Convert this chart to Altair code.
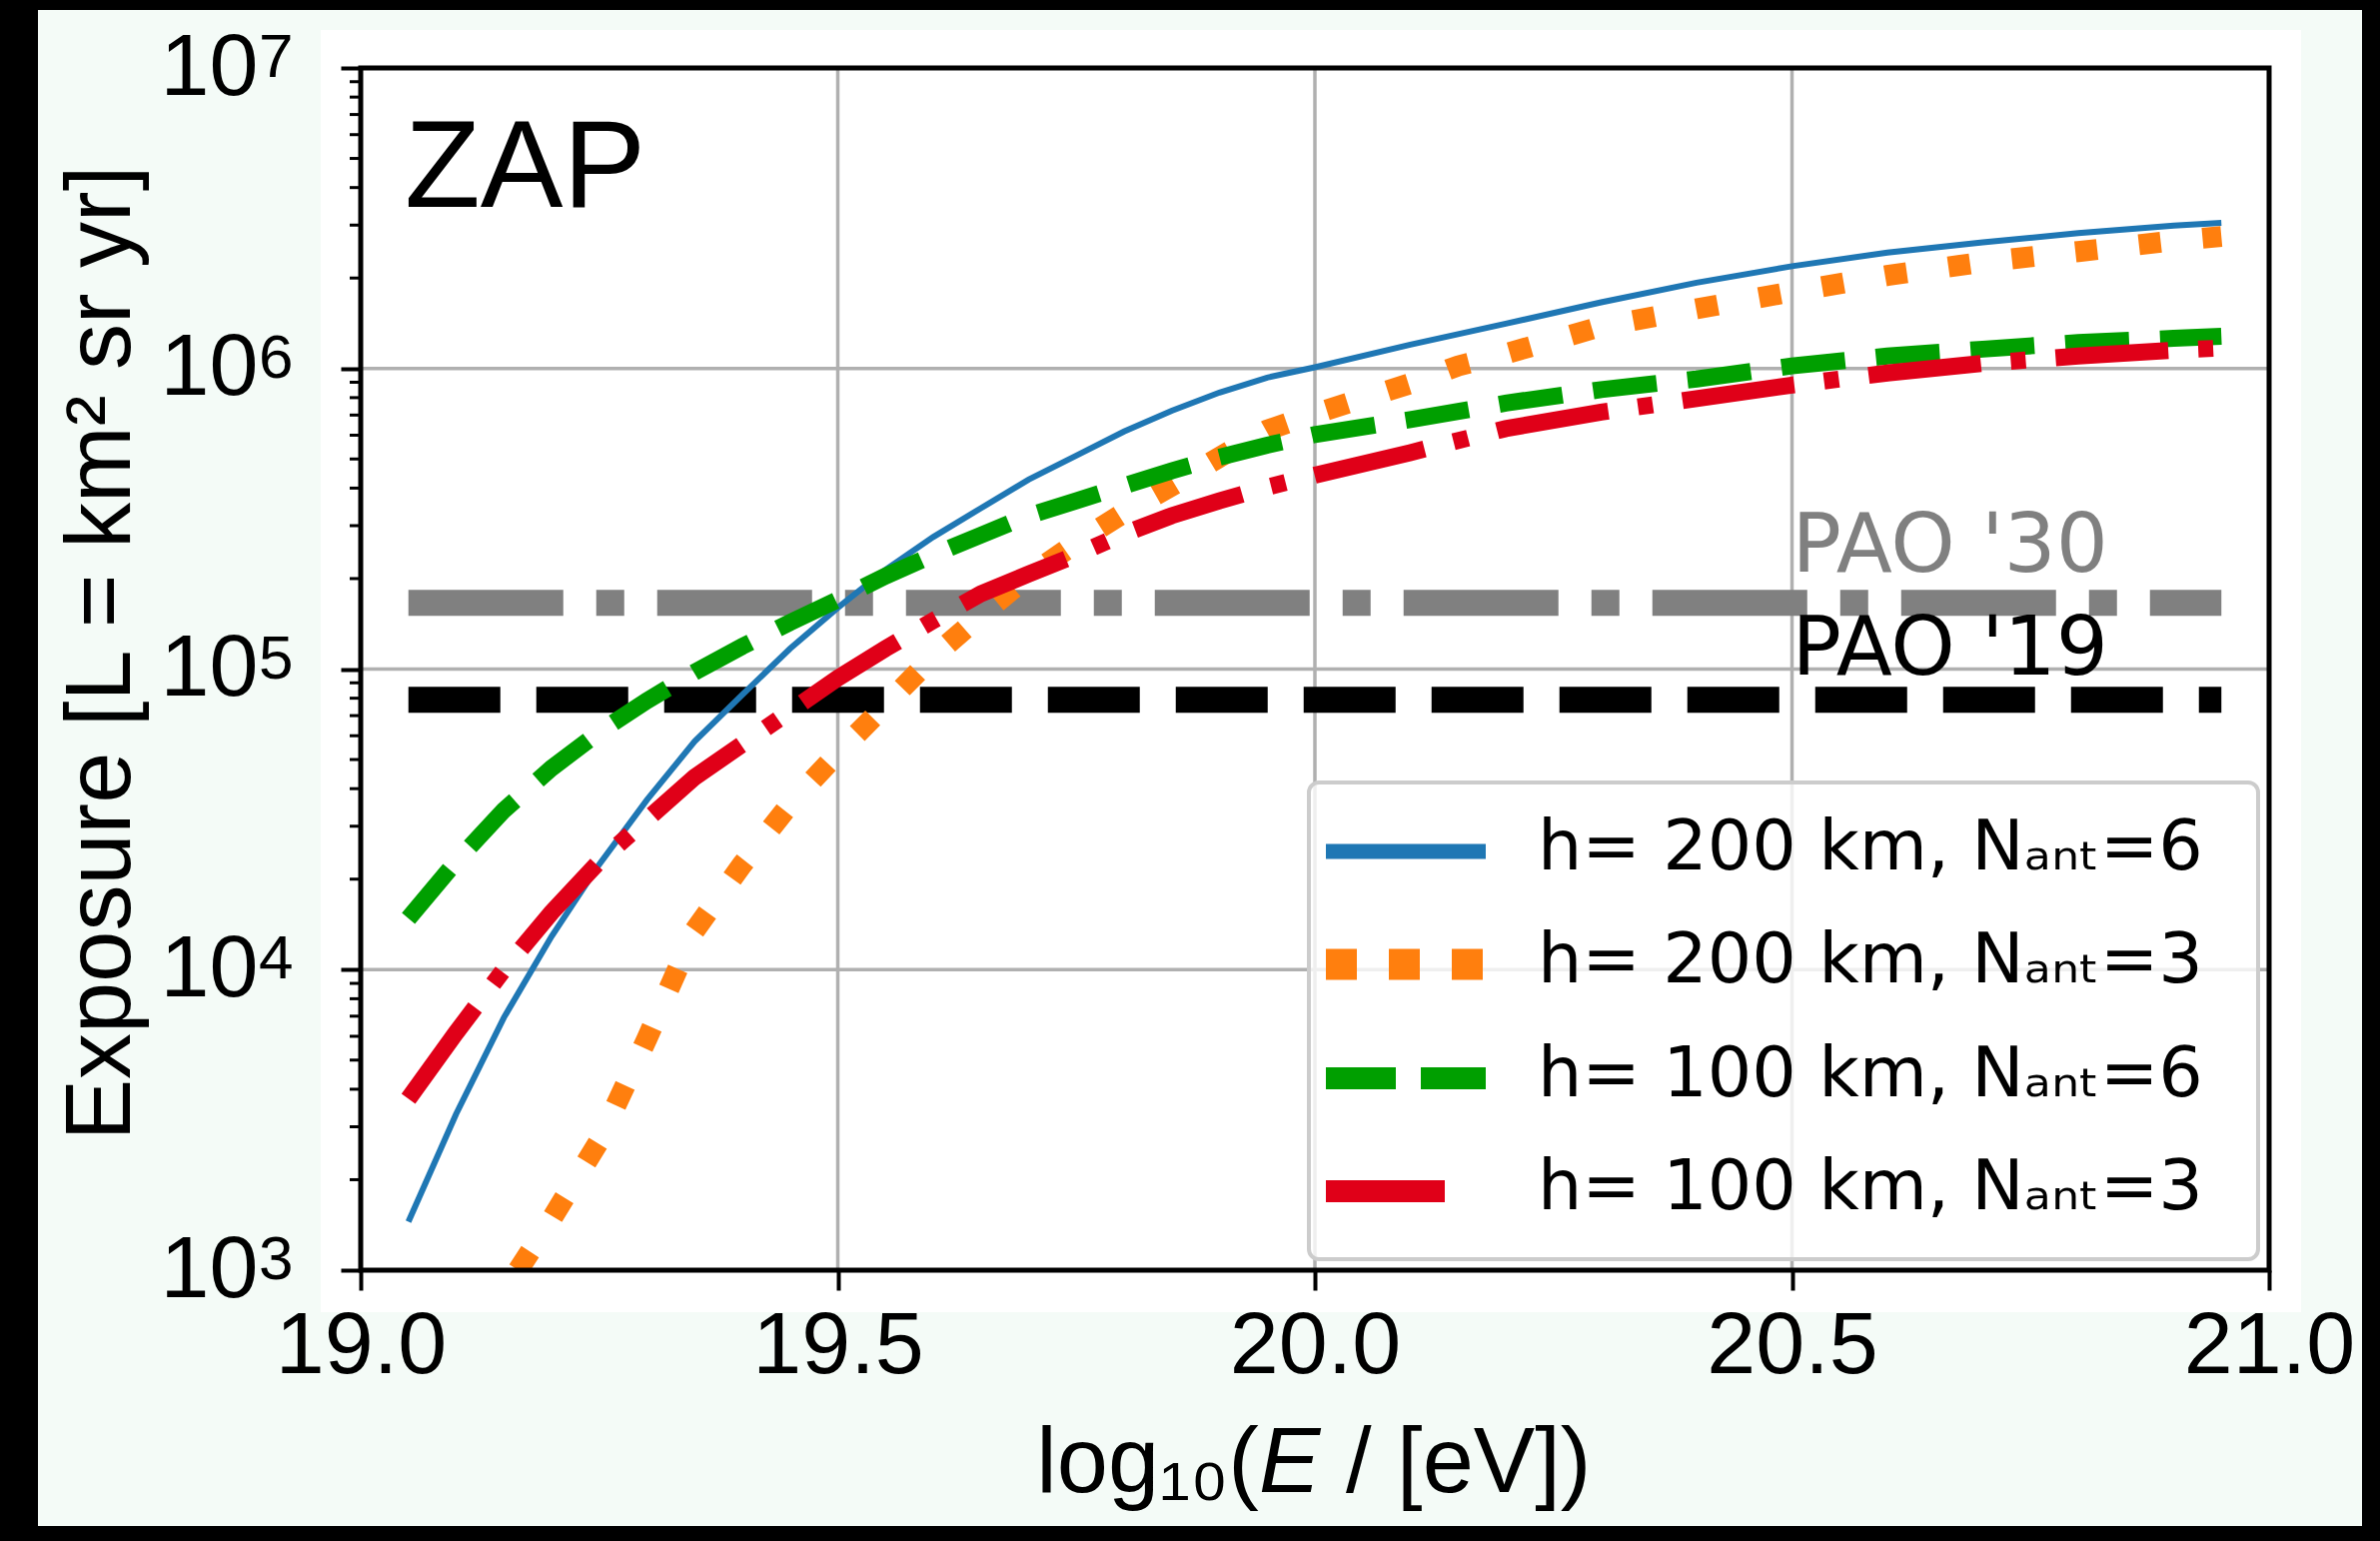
import altair as alt
import pandas as pd

# ---- data: exposure (km^2 sr yr) vs log10(E/eV) for each ZAP configuration ----
E_H200_N6 = [19.05, 19.10, 19.15, 19.20, 19.25, 19.30, 19.35, 19.40, 19.45, 19.50,
             19.55, 19.60, 19.65, 19.70, 19.75, 19.80, 19.85, 19.90, 19.95, 20.00,
             20.10, 20.20, 20.30, 20.40, 20.50, 20.60, 20.70, 20.80, 20.90, 20.95]
EXPO_H200_N6 = [1.45e3, 3.31e3, 6.92e3, 1.29e4, 2.24e4, 3.67e4, 5.75e4, 8.22e4, 1.17e5, 1.60e5,
                2.14e5, 2.75e5, 3.43e5, 4.27e5, 5.13e5, 6.17e5, 7.24e5, 8.32e5, 9.33e5, 1.01e6,
                1.20e6, 1.41e6, 1.66e6, 1.93e6, 2.19e6, 2.43e6, 2.63e6, 2.82e6, 2.99e6, 3.05e6]

E_H200_N3 = [19.165, 19.20, 19.25, 19.30, 19.35, 19.40, 19.45, 19.50, 19.55, 19.60,
             19.65, 19.70, 19.75, 19.80, 19.85, 19.90, 19.95, 20.00, 20.05, 20.10,
             20.15, 20.20, 20.30, 20.40, 20.50, 20.60, 20.70, 20.80, 20.90, 20.95]
EXPO_H200_N3 = [1.0e3, 1.48e3, 2.69e3, 5.89e3, 1.35e4, 2.24e4, 3.55e4, 5.25e4, 7.59e4, 1.10e5,
                1.51e5, 2.04e5, 2.63e5, 3.31e5, 4.07e5, 5.07e5, 6.24e5, 7.08e5, 7.94e5, 8.91e5,
                1.02e6, 1.12e6, 1.38e6, 1.58e6, 1.80e6, 2.04e6, 2.26e6, 2.45e6, 2.66e6, 2.75e6]

E_H100_N6 = E_H200_N6
EXPO_H100_N6 = [1.48e4, 2.29e4, 3.39e4, 4.68e4, 6.17e4, 7.85e4, 9.77e4, 1.19e5, 1.43e5, 1.70e5,
                2.04e5, 2.40e5, 2.79e5, 3.24e5, 3.63e5, 4.07e5, 4.57e5, 5.07e5, 5.56e5, 6.03e5,
                6.76e5, 7.67e5, 8.51e5, 9.23e5, 1.02e6, 1.10e6, 1.16e6, 1.22e6, 1.26e6, 1.28e6]

E_H100_N3 = E_H200_N6
EXPO_H100_N3 = [3.72e3, 6.17e3, 1.0e4, 1.55e4, 2.29e4, 3.16e4, 4.37e4, 5.62e4, 7.24e4, 9.33e4,
                1.17e5, 1.45e5, 1.78e5, 2.07e5, 2.40e5, 2.82e5, 3.24e5, 3.63e5, 4.03e5, 4.42e5,
                5.25e5, 6.31e5, 7.16e5, 7.94e5, 8.81e5, 9.66e5, 1.04e6, 1.10e6, 1.15e6, 1.17e6]

# Pierre Auger Observatory reference exposures
PAO_E = [19.05, 20.95]
PAO_30 = 1.66e5
PAO_19 = 7.9e4
PAO_LABEL_E = 20.5
PAO_LABELS = ["PAO '30", "PAO '19"]

LEGEND_LABELS = ["h= 200 km, Nₐₙₜ=6", "h= 200 km, Nₐₙₜ=3",
                 "h= 100 km, Nₐₙₜ=6", "h= 100 km, Nₐₙₜ=3"]

# x-axis title pieces: "log₁₀(" + italic "E" + " / [eV])"
X_TITLE_PARTS = ["log₁₀(", "E", "/ [eV])"]

X_TICKS = [19.0, 19.5, 20.0, 20.5, 21.0]
Y_TICKS = [1e3, 1e4, 1e5, 1e6, 1e7]
Y_TICK_BASE = "10"
Y_TICK_EXPONENTS = ["3", "4", "5", "6", "7"]
Y_MINOR = [m * 10 ** k for k in range(3, 7) for m in range(2, 10)]

# ---- layout ----
W, H = 1910, 1203
PAD = {"left": 361, "top": 68, "right": 111, "bottom": 271}
SANS = "Liberation Sans"
DEJAVU = "DejaVu Sans"

BLUE, ORANGE, GREEN, RED = "#1f77b4", "#ff7f0e", "#009f00", "#e00018"

x_scale = alt.Scale(domain=[19.0, 21.0], nice=False, zero=False)
y_scale = alt.Scale(type="log", domain=[1e3, 1e7], nice=False)

x_axis = alt.Axis(
    values=X_TICKS, format=".1f", grid=False, domain=False,
    ticks=True, tickSize=20, tickWidth=4, tickColor="black",
    labelFont=SANS, labelFontSize=88, labelColor="black", labelPadding=12,
    labelFlush=False, labelOverlap=False, title="", zindex=1,
)
# mantissa "10" comes from the axis, the exponent is a separate raised text layer
y_axis = alt.Axis(
    values=Y_TICKS, labelExpr=f"'{Y_TICK_BASE}'", grid=False, domain=False,
    ticks=True, tickSize=20, tickWidth=4, tickColor="black",
    labelFont=SANS, labelFontSize=88, labelColor="black", labelPadding=83,
    labelOverlap=False, labelFlush=False,
    title="Exposure [L = km² sr yr]", titleFont=SANS, titleFontSize=92,
    titleFontWeight="normal", titleColor="black", titleAngle=270,
    titleBaseline="alphabetic", titleX=-232, titleY=585, titleAlign="center",
    zindex=1,
)


def xenc(field="energy"):
    return alt.X(f"{field}:Q", scale=x_scale, axis=x_axis)


def yenc(field="exposure"):
    return alt.Y(f"{field}:Q", scale=y_scale, axis=y_axis)


ONE = pd.DataFrame({"k": [0]})

# ---- background panels ----
page = alt.Chart(ONE).mark_rect(fill="#f4fbf7").encode(
    x=alt.value(-323), x2=alt.value(2003), y=alt.value(-58), y2=alt.value(1459))
figure = alt.Chart(ONE).mark_rect(fill="white").encode(
    x=alt.value(-40), x2=alt.value(1942), y=alt.value(-38), y2=alt.value(1245))

# ---- grid ----
vgrid = alt.Chart(pd.DataFrame({"energy": X_TICKS})).mark_rule(
    color="#b0b0b0", strokeWidth=3.5).encode(x=xenc())
hgrid = alt.Chart(pd.DataFrame({"exposure": Y_TICKS})).mark_rule(
    color="#b0b0b0", strokeWidth=3.5).encode(y=yenc())

# minor ticks of the log axis
minor = alt.Chart(pd.DataFrame({"exposure": Y_MINOR})).mark_rule(
    color="black", strokeWidth=3).encode(
    y=yenc(), x=alt.value(-11), x2=alt.value(0))

# exponents of the y tick labels
exponents = alt.Chart(pd.DataFrame({"exposure": Y_TICKS, "exp": Y_TICK_EXPONENTS})).mark_text(
    font=SANS, fontSize=62, color="black", align="left", baseline="alphabetic", dy=9).encode(
    y=yenc(), x=alt.value(-102), text="exp:N")

# x-axis title with an italic E (E advance and the following space are added by hand)
TITLE_X, TITLE_Y, E_ADV, SPACE = 899, 1425, 61, 26
x_title = [
    alt.Chart(ONE).mark_text(text=X_TITLE_PARTS[0], font=SANS, fontSize=92, color="black",
                             align="right", baseline="alphabetic").encode(
        x=alt.value(TITLE_X), y=alt.value(TITLE_Y)),
    alt.Chart(ONE).mark_text(text=X_TITLE_PARTS[1], font=SANS, fontSize=92, color="black",
                             fontStyle="italic", align="left", baseline="alphabetic").encode(
        x=alt.value(TITLE_X), y=alt.value(TITLE_Y)),
    alt.Chart(ONE).mark_text(text=X_TITLE_PARTS[2], font=SANS, fontSize=92, color="black",
                             align="left", baseline="alphabetic").encode(
        x=alt.value(TITLE_X + E_ADV + SPACE), y=alt.value(TITLE_Y)),
]

# ---- PAO reference lines ----
pao30 = alt.Chart(pd.DataFrame({"energy": PAO_E, "exposure": [PAO_30] * 2})).mark_line(
    color="#808080", strokeWidth=26, strokeDash=[155, 33, 28, 33], strokeCap="butt",
    clip=True).encode(x=xenc(), y=yenc())
pao19 = alt.Chart(pd.DataFrame({"energy": PAO_E, "exposure": [PAO_19] * 2})).mark_line(
    color="black", strokeWidth=26, strokeDash=[92, 36], strokeCap="butt",
    clip=True).encode(x=xenc(), y=yenc())


def curve(e, v, color, width, dash=None):
    kw = dict(color=color, strokeWidth=width, strokeCap="butt", clip=True)
    if dash:
        kw["strokeDash"] = dash
    return alt.Chart(pd.DataFrame({"energy": e, "exposure": v})).mark_line(**kw).encode(
        x=xenc(), y=yenc())


c1 = curve(E_H200_N6, EXPO_H200_N6, BLUE, 6)
c2 = curve(E_H200_N3, EXPO_H200_N3, ORANGE, 21, [22, 42])
c3 = curve(E_H100_N6, EXPO_H100_N6, GREEN, 17, [64, 31])
c4 = curve(E_H100_N3, EXPO_H100_N3, RED, 17, [113, 30, 15, 30])

# ---- annotations ----
pao_t30 = alt.Chart(pd.DataFrame({"energy": [PAO_LABEL_E], "exposure": [PAO_30],
                                  "label": [PAO_LABELS[0]]})).mark_text(
    font=DEJAVU, fontSize=82, color="#808080", align="left", baseline="alphabetic",
    dy=-31).encode(x=xenc(), y=yenc(), text="label:N")
pao_t19 = alt.Chart(pd.DataFrame({"energy": [PAO_LABEL_E], "exposure": [PAO_19],
                                  "label": [PAO_LABELS[1]]})).mark_text(
    font=DEJAVU, fontSize=82, color="black", align="left", baseline="alphabetic",
    dy=-25).encode(x=xenc(), y=yenc(), text="label:N")

zap = alt.Chart(ONE).mark_text(
    text="ZAP", font=SANS, fontSize=124, color="black", align="left",
    baseline="alphabetic").encode(x=alt.value(44), y=alt.value(139))

# ---- legend ----
legend_box = alt.Chart(ONE).mark_rect(
    fill="white", fillOpacity=0.8, stroke="#cccccc", strokeWidth=4, cornerRadius=10).encode(
    x=alt.value(949), x2=alt.value(1899), y=alt.value(715), y2=alt.value(1192))

ROWS = [784, 897, 1011, 1124]
HANDLES = [
    (BLUE, 15, None),
    (ORANGE, 31, [31, 32]),
    (GREEN, 22, [70, 25]),
    (RED, 22, [119, 60]),
]
legend_layers = []
for row_y, (color, width, dash), label in zip(ROWS, HANDLES, LEGEND_LABELS):
    kw = dict(color=color, strokeWidth=width, strokeCap="butt")
    if dash:
        kw["strokeDash"] = dash
    legend_layers.append(alt.Chart(ONE).mark_rule(**kw).encode(
        x=alt.value(966), x2=alt.value(1126), y=alt.value(row_y)))
    legend_layers.append(alt.Chart(ONE).mark_text(
        text=label, font=DEJAVU, fontSize=70, color="black", align="left",
        baseline="alphabetic").encode(x=alt.value(1178), y=alt.value(row_y + 18)))

# ---- frame ----
frame = alt.Chart(ONE).mark_rect(
    fillOpacity=0, stroke="black", strokeWidth=5).encode(
    x=alt.value(0), x2=alt.value(W), y=alt.value(0), y2=alt.value(H))

chart = alt.layer(
    page, figure, vgrid, hgrid, minor, exponents, *x_title, pao30, pao19, c1, c2, c3, c4,
    pao_t30, pao_t19, zap, legend_box, *legend_layers, frame,
).properties(
    width=W, height=H, padding=PAD, background="#000000",
    autosize=alt.AutoSizeParams(type="none"),
).configure_view(strokeWidth=0)

chart.save("out.html", embed_options={"renderer": "svg", "actions": False})
